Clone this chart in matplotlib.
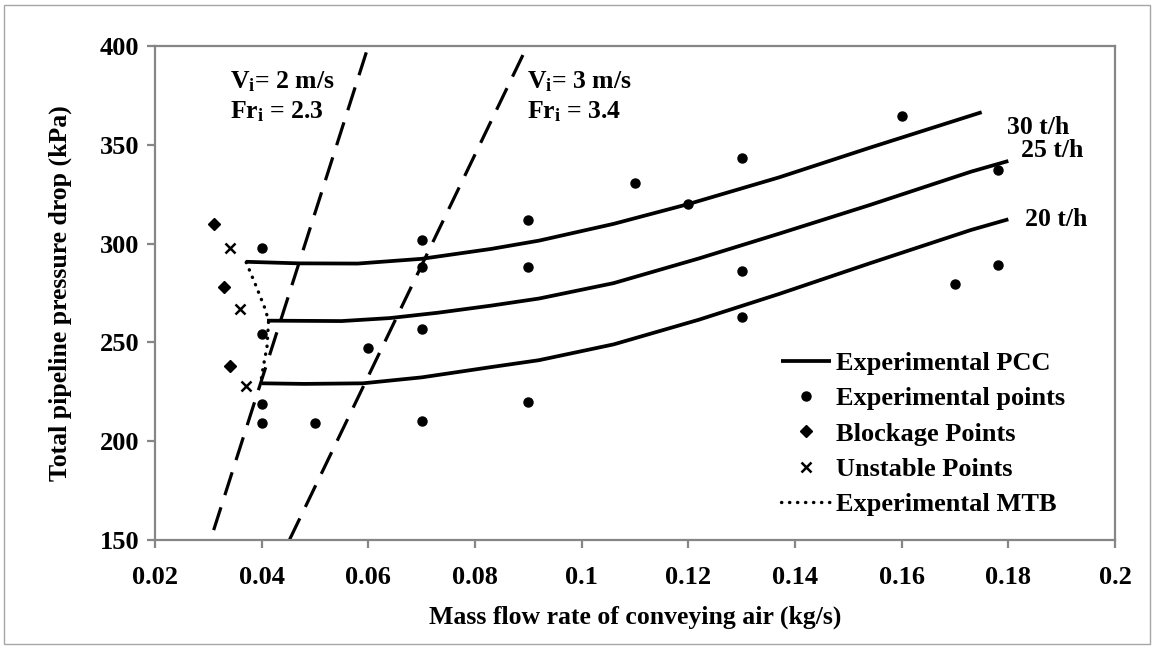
import matplotlib
matplotlib.use("Agg")
import matplotlib.pyplot as plt
from matplotlib.patches import Rectangle

plt.rcParams['font.family'] = ['Liberation Serif', 'DejaVu Serif']
plt.rcParams['font.weight'] = 'bold'
plt.rcParams['mathtext.fontset'] = 'custom'
plt.rcParams['mathtext.rm'] = 'Liberation Serif:bold'
plt.rcParams['mathtext.it'] = 'Liberation Serif:bold'
plt.rcParams['mathtext.bf'] = 'Liberation Serif:bold'

# experimental points
pts_x = [0.04, 0.04, 0.04, 0.04, 0.05, 0.06, 0.07, 0.07, 0.07, 0.07, 0.09, 0.09, 0.09,
         0.11, 0.12, 0.13, 0.13, 0.13, 0.16, 0.17, 0.178, 0.178]
pts_y = [298, 254, 219, 209, 209, 247, 302, 288, 257, 210, 312, 288, 220,
         330.5, 320, 343.5, 286, 263, 364.7, 279.5, 337, 289]

# blockage and unstable points
block_x = [0.031, 0.033, 0.034]
block_y = [310, 278, 238]
unst_x = [0.034, 0.036, 0.037]
unst_y = [298, 267, 228]

# pressure control curves (PCC)
pcc30_x = [0.037, 0.047, 0.058, 0.070, 0.083, 0.092, 0.106, 0.120, 0.137, 0.154, 0.175]
pcc30_y = [290.8, 290.0, 289.9, 292.3, 297.3, 301.5, 310.0, 320.0, 333.5, 348.5, 366.5]
pcc25_x = [0.041, 0.055, 0.064, 0.073, 0.083, 0.092, 0.106, 0.122, 0.137, 0.154, 0.173, 0.180]
pcc25_y = [261.0, 260.8, 262.3, 265.0, 268.6, 272.2, 280.0, 292.5, 305.0, 319.5, 336.4, 341.8]
pcc20_x = [0.040, 0.048, 0.059, 0.070, 0.083, 0.092, 0.106, 0.122, 0.137, 0.154, 0.173, 0.180]
pcc20_y = [229.3, 229.0, 229.3, 232.3, 237.5, 241.0, 249.0, 261.5, 274.5, 290.0, 306.9, 312.3]

# minimum transport boundary
mtb_x = [0.0371, 0.039, 0.0406, 0.0413, 0.041, 0.0403, 0.0398]
mtb_y = [290.5, 278.2, 267.3, 261.0, 247.8, 237.7, 229.3]

# constant inlet velocity lines
v2_x = [0.031, 0.060]
v2_y = [155, 400]
v3_x = [0.0452, 0.0898]
v3_y = [150, 400]

xticks = [0.02, 0.04, 0.06, 0.08, 0.1, 0.12, 0.14, 0.16, 0.18, 0.2]
xticklabels = ['0.02', '0.04', '0.06', '0.08', '0.1', '0.12', '0.14', '0.16', '0.18', '0.2']
yticks = [150, 200, 250, 300, 350, 400]

fig = plt.figure(figsize=(11.55, 6.48), dpi=100)
ax = fig.add_axes([155/1155, 1-540/648, (1115-155)/1155, (540-46)/648])

ax.plot(v2_x, v2_y, color='black', lw=2.3, dashes=(7.5, 4), zorder=2)
ax.plot(v3_x, v3_y, color='black', lw=2.3, dashes=(7.5, 4), zorder=2)

l_pcc, = ax.plot(pcc30_x, pcc30_y, color='black', lw=2.7, solid_capstyle='butt',
                 solid_joinstyle='round', label='Experimental PCC', zorder=3)
ax.plot(pcc25_x, pcc25_y, color='black', lw=2.7, solid_capstyle='butt', solid_joinstyle='round', zorder=3)
ax.plot(pcc20_x, pcc20_y, color='black', lw=2.7, solid_capstyle='butt', solid_joinstyle='round', zorder=3)

l_pts, = ax.plot(pts_x, pts_y, 'o', color='black', ms=6.5, label='Experimental points', zorder=4)
l_blk, = ax.plot(block_x, block_y, 'D', color='black', ms=6.5, label='Blockage Points', zorder=4)
l_uns, = ax.plot(unst_x, unst_y, 'x', color='black', ms=7.5, mew=1.8, label='Unstable Points', zorder=4)
l_mtb, = ax.plot(mtb_x, mtb_y, color='black', lw=2.4, linestyle=(0, (0.1, 2.3)),
                 dash_capstyle='round', label='Experimental MTB', zorder=3)

ax.set_xlim(0.02, 0.2)
ax.set_ylim(150, 400)
ax.set_xticks(xticks)
ax.set_xticklabels(xticklabels)
ax.set_yticks(yticks)

for s in ax.spines.values():
    s.set_color('#868686')
    s.set_linewidth(1.6)
ax.tick_params(direction='out', length=5.5, width=1.6, color='#868686', labelsize=19)
ax.tick_params(axis='x', pad=13)
ax.tick_params(axis='y', pad=6)

ax.set_xlabel('Mass flow rate of conveying air (kg/s)', fontsize=18.5, fontweight='bold', labelpad=12)
ax.set_ylabel('Total pipeline pressure drop (kPa)', fontsize=18.5, fontweight='bold', labelpad=20)

# annotations
fa = 18.5
ax.text(0.0341, 382, 'V$_\\mathrm{i}$= 2 m/s', fontsize=fa, fontweight='bold', va='center', ha='left')
ax.text(0.0341, 367, 'Fr$_\\mathrm{i}$ = 2.3', fontsize=fa, fontweight='bold', va='center', ha='left')
ax.text(0.0897, 382, 'V$_\\mathrm{i}$= 3 m/s', fontsize=fa, fontweight='bold', va='center', ha='left')
ax.text(0.0897, 367, 'Fr$_\\mathrm{i}$ = 3.4', fontsize=fa, fontweight='bold', va='center', ha='left')

ax.text(0.1856, 359, '30 t/h', fontsize=18.5, fontweight='bold', va='center', ha='center')
ax.text(0.1883, 347, '25 t/h', fontsize=18.5, fontweight='bold', va='center', ha='center')
ax.text(0.1889, 312.4, '20 t/h', fontsize=18.5, fontweight='bold', va='center', ha='center')

leg = ax.legend(handles=[l_pcc, l_pts, l_blk, l_uns, l_mtb], loc='upper left',
                bbox_to_anchor=(770/1155, 1-341/648), bbox_transform=fig.transFigure,
                frameon=False, fontsize=19, handlelength=1.9, handletextpad=0.2,
                labelspacing=0.45, borderaxespad=0)

fig.patches.append(Rectangle((4/1155, 4/648), 1-9/1155, 1-9/648, transform=fig.transFigure,
                             fill=False, edgecolor='#a6a6a6', lw=1))

fig.savefig('out.png', dpi=100)
